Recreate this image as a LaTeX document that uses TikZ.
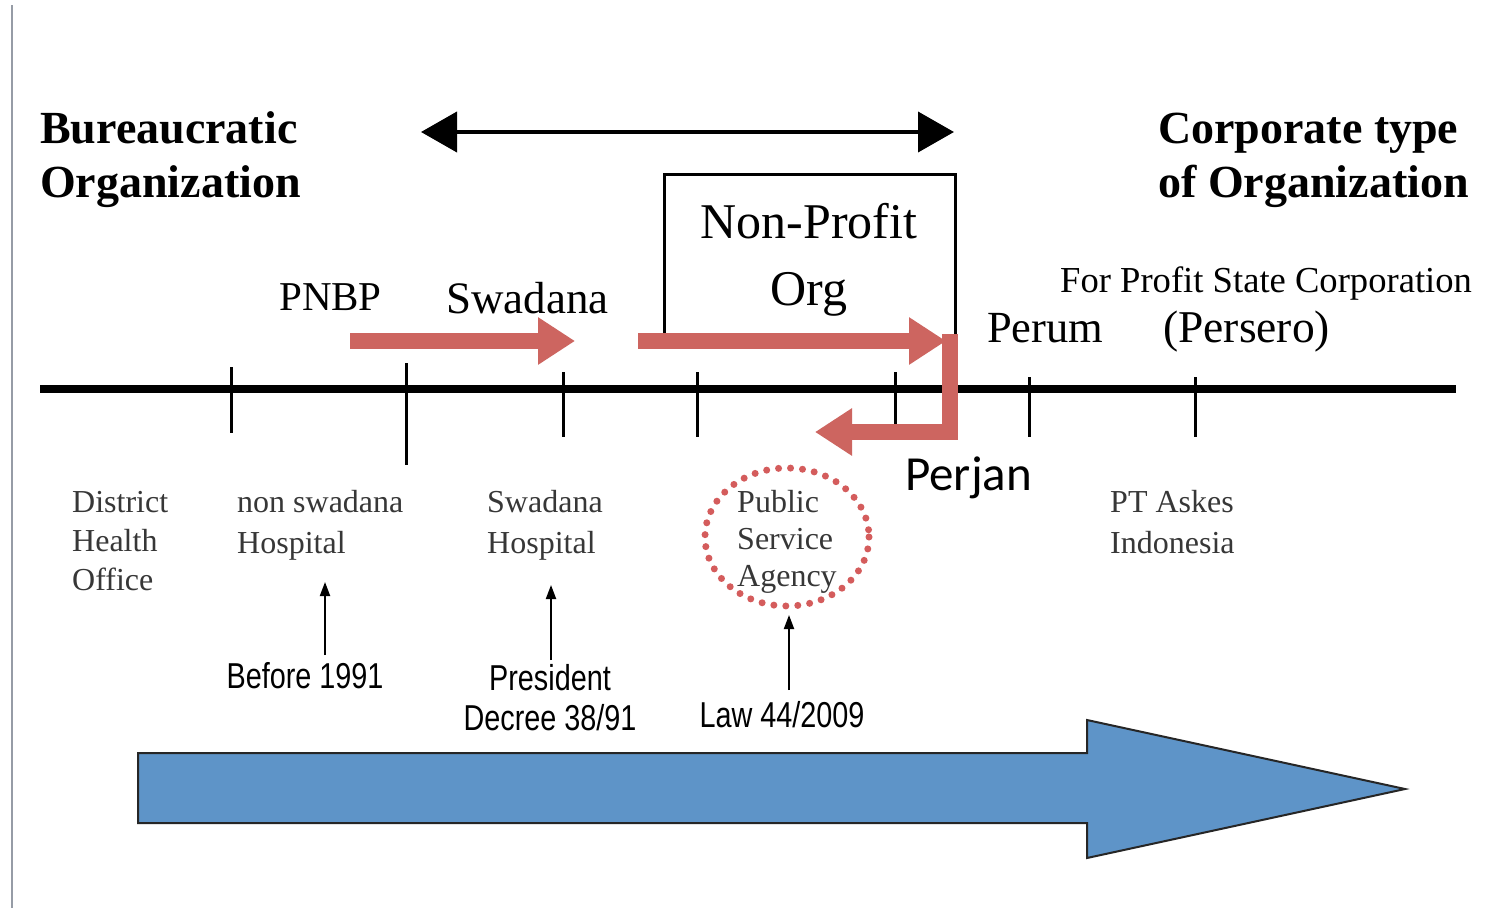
\documentclass[tikz,border=0pt]{standalone}
\usepackage{fontspec}
\setmainfont{Liberation Serif}
\newfontfamily\narrowsans[FakeStretch=0.8]{Liberation Sans}
\newfontfamily\calib{Carlito}
\usetikzlibrary{arrows.meta}
\definecolor{redarr}{RGB}{205,101,96}
\definecolor{dotred}{RGB}{212,92,92}
\definecolor{bluearr}{RGB}{94,148,200}
\definecolor{txtgray}{RGB}{55,55,55}
\definecolor{edgegray}{RGB}{150,156,166}
\tikzset{
  title/.style={font=\bfseries\fontsize{46}{54}\selectfont, align=left, inner sep=0, anchor=base west},
  lbl/.style={inner sep=0, anchor=base west},
  small/.style={font=\fontsize{32}{39}\selectfont, text=txtgray, align=left, inner sep=0, anchor=base west},
  law/.style={font=\narrowsans\fontsize{36}{40}\selectfont, inner sep=0, anchor=base},
  redarrow/.style={draw=redarr, line width=16, line join=miter, -{Triangle[length=37,width=45]}},
  tick/.style={line width=3},
  uparrow/.style={line width=2, -{Triangle[length=14,width=10]}},
}
\begin{document}
\begin{tikzpicture}[x=1pt,y=-1pt]
\useasboundingbox (0,0) rectangle (1511,908);
\fill[white] (0,0) rectangle (1511,908);
% left edge line
\draw[edgegray, line width=2] (12,5) -- (12,908);

% titles (base anchor = last line)
\node[title] (bur) at (40,197) {Bureaucratic\\Organization};
\node[title] (corp) at (1158,197) {Corporate type\\of Organization};

% double arrow
\coordinate (dl) at (421,132);
\coordinate (dr) at (954,132);
\draw[line width=4, {Triangle[length=36,width=40]}-{Triangle[length=36,width=40]}] (dl) -- (dr);

% Non-profit box
\draw[line width=3] (664,334) -- (664,174) -- (955,174) -- (955,337) -- (948,337);
\node[font=\fontsize{50}{67}\selectfont, align=center, inner sep=0, anchor=base] (npo) at (809,305) {Non-Profit\\Org};

% upper labels
\node[lbl, font=\fontsize{41}{48}\selectfont] (pnbp) at (279,310) {PNBP};
\node[lbl, font=\fontsize{45}{54}\selectfont] (swa) at (446,313) {Swadana};
\node[lbl, font=\fontsize{44.5}{54}\selectfont] (perum) at (987,342) {Perum};
\node[lbl, font=\fontsize{45.5}{54}\selectfont] (pers) at (1163,342) {(Persero)};
\node[lbl, font=\fontsize{36.6}{44}\selectfont] (fpsc) at (1060,292) {For Profit State Corporation};
\node[lbl, font=\calib\fontsize{49}{58}\selectfont] (perjan) at (905,490) {Perjan};

% timeline
\coordinate (tl) at (40,389);
\coordinate (tr) at (1456,389);
\draw[line width=8] (tl) -- (tr);
\draw[tick] (231,367) -- (231,433);
\draw[tick] (406,363) -- (406,465);
\draw[tick] (563,372) -- (563,437);
\draw[tick] (697,372) -- (697,437);
\draw[tick] (895,372) -- (895,426);
\draw[tick] (1029,377) -- (1029,437);
\draw[tick] (1195,377) -- (1195,437);

% red arrows
\coordinate (r1s) at (350,341);
\coordinate (r1e) at (575,341);
\draw[redarrow] (r1s) -- (r1e);
\coordinate (r2s) at (638,341);
\coordinate (r2e) at (946,341);
\draw[redarrow] (r2s) -- (r2e);
\coordinate (r3s) at (950,334);
\coordinate (r3c) at (950,432);
\coordinate (r3e) at (815,432);
\draw[redarrow] (r3s) -- (r3c) -- (r3e);

% lower labels (base anchor = last line)
\node[small] (dho) at (72,590) {District\\Health\\Office};
\node[small, font=\fontsize{32}{41}\selectfont] (nsh) at (237,553) {non swadana\\Hospital};
\node[small, font=\fontsize{32}{41}\selectfont] (swh) at (487,553) {Swadana\\Hospital};
\node[small, font=\fontsize{32}{37}\selectfont] (psa) at (737,586) {Public\\Service\\Agency};
\node[small, font=\fontsize{32}{41}\selectfont] (pta) at (1110,553) {PT Askes\\Indonesia};

% dotted circle
\draw[dotred, line width=7, line cap=round, dash pattern=on 0pt off 12pt] (787,537) ellipse [x radius=82, y radius=69];

% legal basis
\node[law] (b91) at (305,688) {Before 1991};
\node[law, align=center] (pd) at (550,730) {President\\Decree 38/91};
\node[law] (law) at (782,727) {Law 44/2009};
\coordinate (u1s) at (325,655); \coordinate (u1e) at (325,582);
\coordinate (u2s) at (551,660); \coordinate (u2e) at (551,585);
\coordinate (u3s) at (789,690); \coordinate (u3e) at (789,615);
\draw[uparrow] (u1s) -- (u1e);
\draw[uparrow] (u2s) -- (u2e);
\draw[uparrow] (u3s) -- (u3e);

% big blue arrow
\draw[fill=bluearr, draw=black!85, line width=2, line join=miter]
  (138,753) -- (1087,753) -- (1087,720) -- (1405,789) -- (1087,858) -- (1087,823) -- (138,823) -- cycle;
\end{tikzpicture}
\end{document}
